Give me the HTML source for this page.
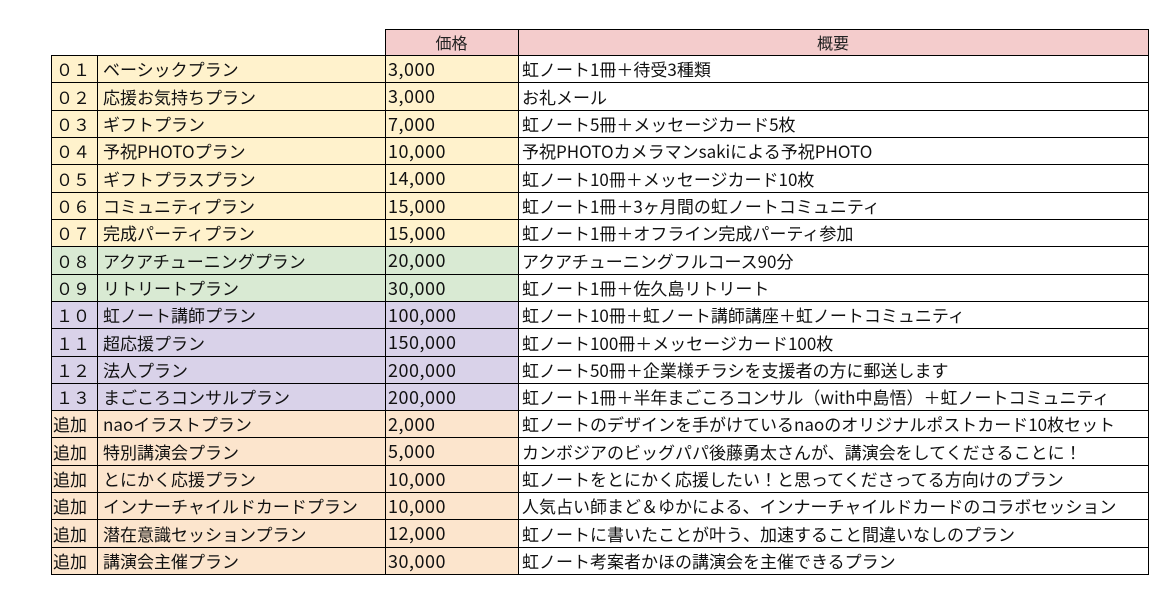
<!DOCTYPE html>
<html><head><meta charset="utf-8">
<style>
html,body{margin:0;padding:0;background:#fff;}
body{width:1174px;height:604px;position:relative;overflow:hidden;font-family:"Noto Sans CJK JP","Liberation Sans",sans-serif;color:#111;}
.c{position:absolute;box-sizing:border-box;font-size:17px;white-space:nowrap;display:flex;align-items:center;}
.hl{position:absolute;height:1px;background:#000;}
.vl{position:absolute;width:1px;background:#000;}
.y{background:#fff2cc}.g{background:#d9ead3}.p{background:#d9d2e9}.o{background:#fce5cd}.w{background:#fff}.pk{background:#f4cccc}
.n{justify-content:flex-start;padding-left:5px;}
.a{padding-left:6px;}
.pr{padding-left:3px;letter-spacing:0.5px;font-size:18px;}
.d{padding-left:4px;}
.h{justify-content:center;font-size:16px;color:#222;}
</style></head><body>
<div class="c pk h" style="left:385px;top:29px;width:133px;height:26px;">価格</div>
<div class="c pk h" style="left:518px;top:29px;width:630px;height:26px;">概要</div>

<div class="c y n" style="left:51px;top:55px;width:46px;height:27px;">０１</div><div class="c y a" style="left:97px;top:55px;width:288px;height:27px;">ベーシックプラン</div><div class="c y pr" style="left:385px;top:55px;width:133px;height:27px;">3,000</div><div class="c w d" style="left:518px;top:55px;width:630px;height:27px;">虹ノート1冊＋待受3種類</div>
<div class="c y n" style="left:51px;top:82px;width:46px;height:28px;">０２</div><div class="c y a" style="left:97px;top:82px;width:288px;height:28px;">応援お気持ちプラン</div><div class="c y pr" style="left:385px;top:82px;width:133px;height:28px;">3,000</div><div class="c w d" style="left:518px;top:82px;width:630px;height:28px;">お礼メール</div>
<div class="c y n" style="left:51px;top:110px;width:46px;height:27px;">０３</div><div class="c y a" style="left:97px;top:110px;width:288px;height:27px;">ギフトプラン</div><div class="c y pr" style="left:385px;top:110px;width:133px;height:27px;">7,000</div><div class="c w d" style="left:518px;top:110px;width:630px;height:27px;">虹ノート5冊＋メッセージカード5枚</div>
<div class="c y n" style="left:51px;top:137px;width:46px;height:27px;">０４</div><div class="c y a" style="left:97px;top:137px;width:288px;height:27px;">予祝PHOTOプラン</div><div class="c y pr" style="left:385px;top:137px;width:133px;height:27px;">10,000</div><div class="c w d" style="left:518px;top:137px;width:630px;height:27px;">予祝PHOTOカメラマンsakiによる予祝PHOTO</div>
<div class="c y n" style="left:51px;top:164px;width:46px;height:28px;">０５</div><div class="c y a" style="left:97px;top:164px;width:288px;height:28px;">ギフトプラスプラン</div><div class="c y pr" style="left:385px;top:164px;width:133px;height:28px;">14,000</div><div class="c w d" style="left:518px;top:164px;width:630px;height:28px;">虹ノート10冊＋メッセージカード10枚</div>
<div class="c y n" style="left:51px;top:192px;width:46px;height:27px;">０６</div><div class="c y a" style="left:97px;top:192px;width:288px;height:27px;">コミュニティプラン</div><div class="c y pr" style="left:385px;top:192px;width:133px;height:27px;">15,000</div><div class="c w d" style="left:518px;top:192px;width:630px;height:27px;">虹ノート1冊＋3ヶ月間の虹ノートコミュニティ</div>
<div class="c y n" style="left:51px;top:219px;width:46px;height:27px;">０７</div><div class="c y a" style="left:97px;top:219px;width:288px;height:27px;">完成パーティプラン</div><div class="c y pr" style="left:385px;top:219px;width:133px;height:27px;">15,000</div><div class="c w d" style="left:518px;top:219px;width:630px;height:27px;">虹ノート1冊＋オフライン完成パーティ参加</div>
<div class="c g n" style="left:51px;top:246px;width:46px;height:28px;">０８</div><div class="c g a" style="left:97px;top:246px;width:288px;height:28px;">アクアチューニングプラン</div><div class="c g pr" style="left:385px;top:246px;width:133px;height:28px;">20,000</div><div class="c w d" style="left:518px;top:246px;width:630px;height:28px;">アクアチューニングフルコース90分</div>
<div class="c g n" style="left:51px;top:274px;width:46px;height:27px;">０９</div><div class="c g a" style="left:97px;top:274px;width:288px;height:27px;">リトリートプラン</div><div class="c g pr" style="left:385px;top:274px;width:133px;height:27px;">30,000</div><div class="c w d" style="left:518px;top:274px;width:630px;height:27px;">虹ノート1冊＋佐久島リトリート</div>
<div class="c p n" style="left:51px;top:301px;width:46px;height:27px;">１０</div><div class="c p a" style="left:97px;top:301px;width:288px;height:27px;">虹ノート講師プラン</div><div class="c p pr" style="left:385px;top:301px;width:133px;height:27px;">100,000</div><div class="c w d" style="left:518px;top:301px;width:630px;height:27px;">虹ノート10冊＋虹ノート講師講座＋虹ノートコミュニティ</div>
<div class="c p n" style="left:51px;top:328px;width:46px;height:28px;">１１</div><div class="c p a" style="left:97px;top:328px;width:288px;height:28px;">超応援プラン</div><div class="c p pr" style="left:385px;top:328px;width:133px;height:28px;">150,000</div><div class="c w d" style="left:518px;top:328px;width:630px;height:28px;">虹ノート100冊＋メッセージカード100枚</div>
<div class="c p n" style="left:51px;top:356px;width:46px;height:27px;">１２</div><div class="c p a" style="left:97px;top:356px;width:288px;height:27px;">法人プラン</div><div class="c p pr" style="left:385px;top:356px;width:133px;height:27px;">200,000</div><div class="c w d" style="left:518px;top:356px;width:630px;height:27px;">虹ノート50冊＋企業様チラシを支援者の方に郵送します</div>
<div class="c p n" style="left:51px;top:383px;width:46px;height:27px;">１３</div><div class="c p a" style="left:97px;top:383px;width:288px;height:27px;">まごころコンサルプラン</div><div class="c p pr" style="left:385px;top:383px;width:133px;height:27px;">200,000</div><div class="c w d" style="left:518px;top:383px;width:630px;height:27px;">虹ノート1冊＋半年まごころコンサル（with中島悟）＋虹ノートコミュニティ</div>
<div class="c o n" style="left:51px;top:410px;width:46px;height:27px;padding-left:2px;">追加</div><div class="c o a" style="left:97px;top:410px;width:288px;height:27px;">naoイラストプラン</div><div class="c o pr" style="left:385px;top:410px;width:133px;height:27px;">2,000</div><div class="c w d" style="left:518px;top:410px;width:630px;height:27px;">虹ノートのデザインを手がけているnaoのオリジナルポストカード10枚セット</div>
<div class="c o n" style="left:51px;top:437px;width:46px;height:28px;padding-left:2px;">追加</div><div class="c o a" style="left:97px;top:437px;width:288px;height:28px;">特別講演会プラン</div><div class="c o pr" style="left:385px;top:437px;width:133px;height:28px;">5,000</div><div class="c w d" style="left:518px;top:437px;width:630px;height:28px;">カンボジアのビッグパパ後藤勇太さんが、講演会をしてくださることに！</div>
<div class="c o n" style="left:51px;top:465px;width:46px;height:27px;padding-left:2px;">追加</div><div class="c o a" style="left:97px;top:465px;width:288px;height:27px;">とにかく応援プラン</div><div class="c o pr" style="left:385px;top:465px;width:133px;height:27px;">10,000</div><div class="c w d" style="left:518px;top:465px;width:630px;height:27px;">虹ノートをとにかく応援したい！と思ってくださってる方向けのプラン</div>
<div class="c o n" style="left:51px;top:492px;width:46px;height:27px;padding-left:2px;">追加</div><div class="c o a" style="left:97px;top:492px;width:288px;height:27px;">インナーチャイルドカードプラン</div><div class="c o pr" style="left:385px;top:492px;width:133px;height:27px;">10,000</div><div class="c w d" style="left:518px;top:492px;width:630px;height:27px;">人気占い師まど＆ゆかによる、インナーチャイルドカードのコラボセッション</div>
<div class="c o n" style="left:51px;top:519px;width:46px;height:28px;padding-left:2px;">追加</div><div class="c o a" style="left:97px;top:519px;width:288px;height:28px;">潜在意識セッションプラン</div><div class="c o pr" style="left:385px;top:519px;width:133px;height:28px;">12,000</div><div class="c w d" style="left:518px;top:519px;width:630px;height:28px;">虹ノートに書いたことが叶う、加速すること間違いなしのプラン</div>
<div class="c o n" style="left:51px;top:547px;width:46px;height:27px;padding-left:2px;">追加</div><div class="c o a" style="left:97px;top:547px;width:288px;height:27px;">講演会主催プラン</div><div class="c o pr" style="left:385px;top:547px;width:133px;height:27px;">30,000</div><div class="c w d" style="left:518px;top:547px;width:630px;height:27px;">虹ノート考案者かほの講演会を主催できるプラン</div>

<div class="hl" style="left:385px;top:29px;width:764px;"></div>
<div class="hl" style="left:51px;top:55px;width:1098px;"></div>
<div class="hl" style="left:51px;top:82px;width:1098px;"></div>
<div class="hl" style="left:51px;top:110px;width:1098px;"></div>
<div class="hl" style="left:51px;top:137px;width:1098px;"></div>
<div class="hl" style="left:51px;top:164px;width:1098px;"></div>
<div class="hl" style="left:51px;top:192px;width:1098px;"></div>
<div class="hl" style="left:51px;top:219px;width:1098px;"></div>
<div class="hl" style="left:51px;top:246px;width:1098px;"></div>
<div class="hl" style="left:51px;top:274px;width:1098px;"></div>
<div class="hl" style="left:51px;top:301px;width:1098px;"></div>
<div class="hl" style="left:51px;top:328px;width:1098px;"></div>
<div class="hl" style="left:51px;top:356px;width:1098px;"></div>
<div class="hl" style="left:51px;top:383px;width:1098px;"></div>
<div class="hl" style="left:51px;top:410px;width:1098px;"></div>
<div class="hl" style="left:51px;top:437px;width:1098px;"></div>
<div class="hl" style="left:51px;top:465px;width:1098px;"></div>
<div class="hl" style="left:51px;top:492px;width:1098px;"></div>
<div class="hl" style="left:51px;top:519px;width:1098px;"></div>
<div class="hl" style="left:51px;top:547px;width:1098px;"></div>
<div class="hl" style="left:51px;top:574px;width:1098px;"></div>
<div class="vl" style="left:51px;top:55px;height:520px;"></div>
<div class="vl" style="left:97px;top:55px;height:520px;"></div>
<div class="vl" style="left:385px;top:29px;height:546px;"></div>
<div class="vl" style="left:518px;top:29px;height:546px;"></div>
<div class="vl" style="left:1148px;top:29px;height:546px;"></div>
</body></html>
